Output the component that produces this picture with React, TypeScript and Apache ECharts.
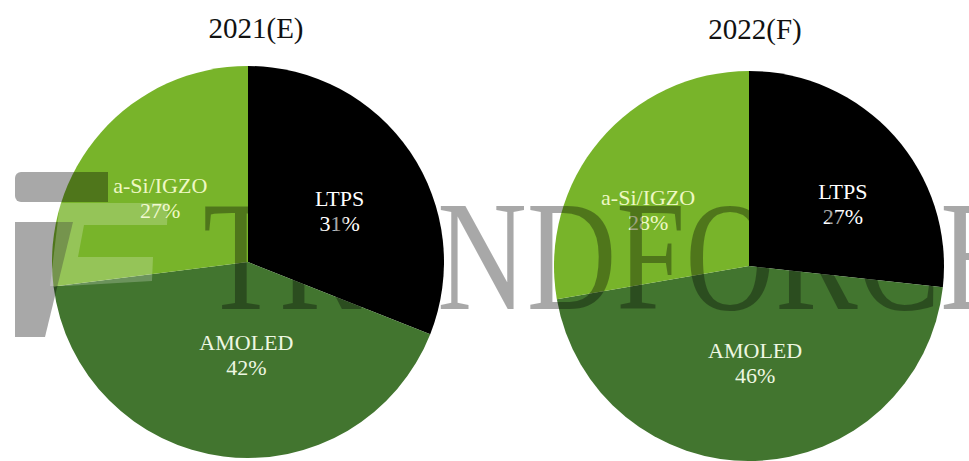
import React, { useEffect, useRef } from "react";
import * as echarts from "echarts";

const categories = ["LTPS", "AMOLED", "a-Si/IGZO"];
const values2021 = [31, 42, 27];
const values2022 = [27, 46, 28];
const titles = ["2021(E)", "2022(F)"];
const colors = ["#000000", "#42752f", "#78b42a"];
const labelColors = ["#ffffff", "#eef7e2", "#eef8c4"];
const watermark = "TRENDFORCE";

const SERIF = "Liberation Serif";

// label nudges (style only)
const offsets2021 = [[8, 6], [11, -7], [-12, 3]];
const offsets2022 = [[19, 5], [3, -3], [-24, 9]];

function buildData(values: number[], offsets: number[][]) {
  return categories.map((name, i) => ({
    name,
    value: values[i],
    itemStyle: { color: colors[i] },
    label: {
      show: true,
      position: "inside",
      formatter: "{s|{b}}\n{s|{c}%}",
      offset: offsets[i],
      rich: {
        s: {
          color: labelColors[i],
          fontFamily: SERIF,
          fontSize: 22,
          lineHeight: 25,
          fontWeight: "normal",
        },
      },
    },
  }));
}

export default function App() {
  const ref = useRef<HTMLDivElement>(null);
  useEffect(() => {
    if (!ref.current) return;
    const chart = echarts.init(ref.current, undefined, { renderer: "svg" });
    const pieCommon = {
      type: "pie",
      startAngle: 90,
      clockwise: true,
      avoidLabelOverlap: false,
      labelLine: { show: false },
      emphasis: { disabled: true },
      itemStyle: { borderWidth: 0 },
    };
    const wmFill = "rgba(0,0,0,0.34)";
    chart.setOption({
      animation: false,
      backgroundColor: "#ffffff",
      textStyle: { fontFamily: SERIF },
      title: [
        {
          text: titles[0],
          left: 251,
          top: 8,
          textAlign: "center",
          textStyle: { fontFamily: SERIF, fontSize: 29, fontWeight: "normal", color: "#111111" },
        },
        {
          text: titles[1],
          left: 750,
          top: 9,
          textAlign: "center",
          textStyle: { fontFamily: SERIF, fontSize: 29, fontWeight: "normal", color: "#111111" },
        },
      ],
      series: [
        { ...pieCommon, name: titles[0], center: [248, 262], radius: 196, data: buildData(values2021, offsets2021) },
        { ...pieCommon, name: titles[1], center: [749, 266], radius: 195, data: buildData(values2022, offsets2022) },
      ],
      graphic: [
        {
          type: "text",
          z: 100,
          x: 203,
          y: 256,
          scaleX: 0.79,
          silent: true,
          style: {
            text: watermark,
            font: `157px "${SERIF}"`,
            fill: wmFill,
            verticalAlign: "middle",
            align: "left",
          },
        },
        {
          type: "rect",
          z: 100,
          silent: true,
          shape: { x: 15, y: 172, width: 93, height: 30, r: [6, 0, 0, 6] },
          style: { fill: wmFill },
        },
        {
          type: "polygon",
          z: 100,
          silent: true,
          shape: { points: [[15, 222], [73, 222], [45, 337], [15, 337]] },
          style: { fill: wmFill },
        },
        {
          type: "polygon",
          z: 100,
          silent: true,
          shape: {
            points: [
              [60, 203], [168, 203], [167, 225], [84, 225], [78, 257],
              [153, 257], [152, 281], [66, 286], [50, 286],
            ],
          },
          style: { fill: "rgba(255,255,255,0.22)" },
        },
      ],
    });
    return () => chart.dispose();
  }, []);
  return (
    <div
      ref={ref}
      style={{ position: "fixed", left: 0, top: 0, width: 969, height: 461 }}
    />
  );
}
